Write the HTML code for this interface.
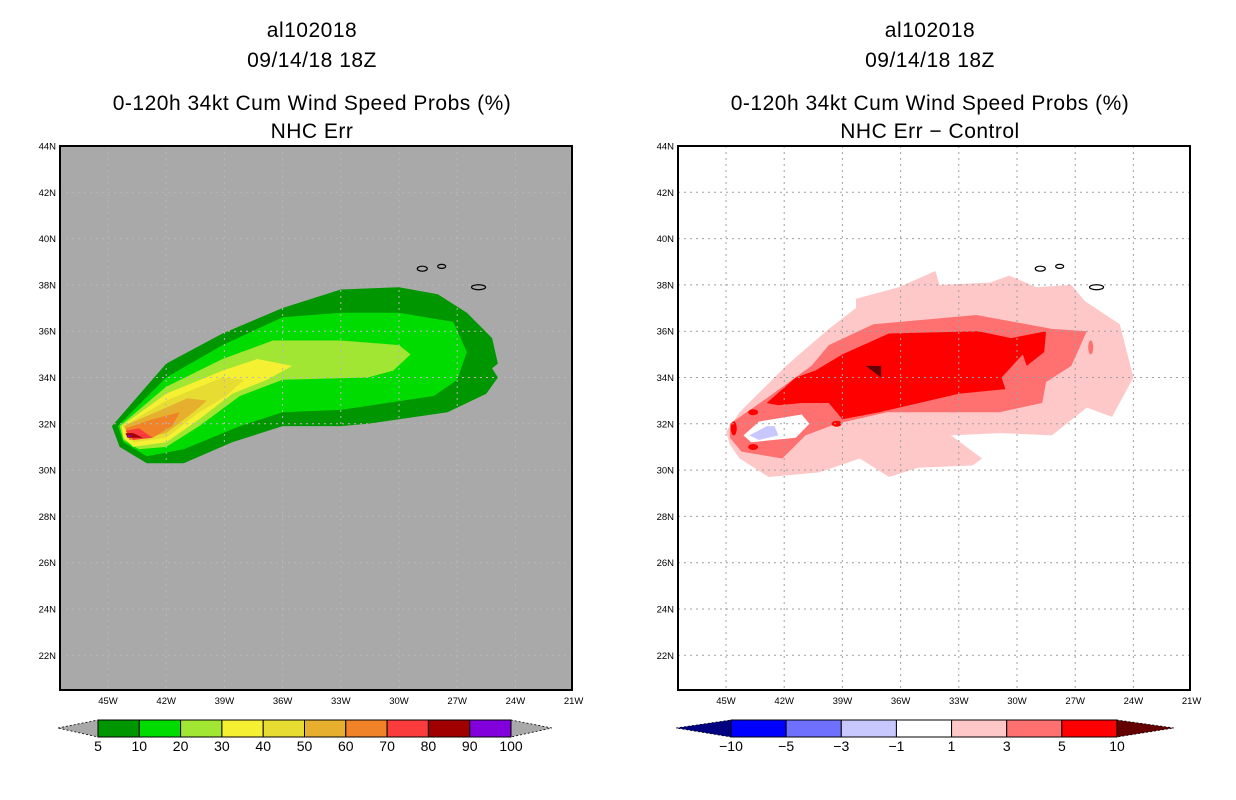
<!DOCTYPE html>
<html><head><meta charset="utf-8"><style>
html,body{margin:0;padding:0;background:#fff;}
svg{display:block;font-family:"Liberation Sans",sans-serif;}
</style></head><body>
<svg id="chart" width="1236" height="800" viewBox="0 0 1236 800"></svg>
<script>
// ---- data (lon in degrees West, lat in degrees North) ----
const lonTicks = [45,42,39,36,33,30,27,24,21];
const latTicks = [44,42,40,38,36,34,32,30,28,26,24,22];
const leftLevels = ["5","10","20","30","40","50","60","70","80","90","100"];
const leftColors = ["#009600","#00dc00","#a0e632","#f5f032","#e6dc32","#e6af2d","#f08228","#fa3c3c","#a00000","#8200dc"];
const rightLevels = ["−10","−5","−3","−1","1","3","5","10"];
const rightColors = ["#0000ff","#7070ff","#c8c8ff","#ffffff","#ffc8c8","#ff7070","#ff0000"];

const p5lon = [44.8,42.0,39.1,36.0,33.0,30.0,28.0,26.5,25.2,24.9,25.2,24.9,25.5,27.5,31.6,33.0,36.0,38.6,41.1,43.0,44.4];
const p5lat = [31.9,34.6,35.9,37.0,37.8,37.9,37.6,36.8,35.7,34.6,34.4,34.0,33.3,32.5,32.0,31.9,31.9,31.2,30.3,30.3,31.0];
const p10lon = [44.5,42.0,39.1,36.0,33.0,30.0,27.2,26.5,27.0,28.2,33.0,36.0,38.2,41.1,43.0,44.2];
const p10lat = [31.9,34.0,35.4,36.6,36.8,36.8,36.4,35.1,33.9,33.2,32.6,32.5,31.9,30.9,30.6,31.2];
const p20lon = [44.4,42.0,39.1,36.5,33.0,30.0,29.4,30.3,31.6,36.0,38.2,40.3,42.0,43.4,44.2];
const p20lat = [31.9,33.6,34.8,35.6,35.6,35.4,35.0,34.3,34.0,33.9,33.2,31.9,31.0,30.9,31.3];
const p30lon = [44.3,42.0,39.1,37.3,35.5,36.8,38.6,40.3,42.0,43.7,44.2];
const p30lat = [31.9,33.3,34.3,34.8,34.5,33.9,33.3,32.2,31.2,31.0,31.4];
const p40lon = [44.2,42.0,39.1,38.0,38.9,40.3,42.0,43.7];
const p40lat = [31.9,33.0,34.0,33.9,33.2,32.5,31.4,31.2];
const p50lon = [44.2,42.0,40.9,39.9,40.6,42.0,43.7];
const p50lat = [31.9,32.7,33.1,33.0,32.5,31.6,31.3];
const p60lon = [44.1,42.7,41.3,41.7,42.7,43.9];
const p60lat = [31.8,32.2,32.5,31.9,31.4,31.3];
const p70lon = [44.1,43.4,42.7,43.7];
const p70lat = [31.7,31.8,31.4,31.3];
const p80lon = [44.1,43.7,43.2,44.0];
const p80lat = [31.6,31.6,31.4,31.4];
const p90lon = [44.0,43.7,44.0];
const p90lat = [31.5,31.5,31.4];

const d1lon = [45.0,44.3,41.9,39.7,38.3,38.3,36.1,34.2,34.0,31.4,30.4,29.0,27.2,26.5,24.7,24.0,25.1,26.4,28.2,30.8,33.4,31.8,32.3,35.1,36.6,38.1,40.2,42.8,44.3,44.8];
const d1lat = [31.65,32.5,34.5,36.1,37.0,37.4,37.9,38.6,38.0,38.1,38.4,37.9,38.0,37.3,36.3,34.0,32.3,32.7,31.5,31.6,31.5,30.5,30.2,30.1,29.7,30.5,29.9,29.7,30.5,31.1];
const d3lon = [44.8,42.9,40.6,39.7,37.4,32.1,28.2,26.4,27.2,28.5,28.7,30.9,36.7,39.3,40.9,42.1,44.2,44.8];
const d3lat = [32.0,33.1,34.5,35.4,36.3,36.7,36.1,36.0,34.5,33.8,32.9,32.5,32.5,32.0,31.5,30.5,30.8,31.4];
const d5lon = [42.9,41.4,40.4,39.0,36.6,32.0,30.3,28.5,28.6,29.5,29.7,30.8,30.6,33.0,37.1,39.0,39.7,41.1,42.3];
const d5lat = [32.9,34.0,34.3,35.0,35.9,36.0,35.7,36.0,35.1,34.5,35.0,34.0,33.5,33.3,32.5,32.2,32.9,32.9,32.8];
const d10lon = [37.8,37.0,37.0];
const d10lat = [34.5,34.5,34.0];
const dm1lon = [44.1,43.3,41.1,40.7,41.4,43.7];
const dm1lat = [31.5,32.1,32.4,32.0,31.4,31.2];
const dm3lon = [43.8,42.9,42.5,42.3,43.3];
const dm3lat = [31.5,31.9,31.9,31.5,31.3];
const spotLon = [44.6,43.6,43.6,39.3];
const spotLat = [31.8,32.5,31.0,32.0];

const NS="http://www.w3.org/2000/svg";
const svg=document.getElementById('chart');
function el(t,a,parent){const e=document.createElementNS(NS,t);for(const k in a)e.setAttribute(k,a[k]);(parent||svg).appendChild(e);return e;}

function makePanel(x0, cfg){
  const g=el('g',{});
  
  
  const X=w=>x0+48+(45-w)*19.4;
  const Y=l=>146+(44-l)*23.15;
  const pw=512, ph=544;
  el('rect',{x:x0,y:146,width:pw,height:ph,fill:cfg.bg},g);
  const poly=(lon,lat,fill,name)=>{
    const p=el('polygon',{points:lon.map((v,i)=>X(v).toFixed(1)+','+Y(lat[i]).toFixed(1)).join(' '),fill:fill},g);
    
    
  };
  cfg.draw(poly,X,Y,g);
  // gridlines
  lonTicks.forEach(w=>{const x=X(w);if(x>x0&&x<x0+pw){const l=el('line',{x1:x,y1:146,x2:x,y2:690,stroke:cfg.grid,'stroke-dasharray':'2,4','stroke-width':1},g);}});
  latTicks.forEach(t=>{const y=Y(t);if(y>146&&y<690){const l=el('line',{x1:x0,y1:y,x2:x0+pw,y2:y,stroke:cfg.grid,'stroke-dasharray':'2,4','stroke-width':1},g);}});
  // islands
  [[28.8,38.7,5,2.5],[27.8,38.8,4,2],[25.9,37.9,7,2.5]].forEach(d=>{const e=el('ellipse',{cx:X(d[0]),cy:Y(d[1]),rx:d[2],ry:d[3],fill:'none',stroke:'#000','stroke-width':1.2},g);});
  el('rect',{x:x0,y:146,width:pw,height:ph,fill:'none',stroke:'#000','stroke-width':2},g);
  latTicks.forEach(t=>{const tx=el('text',{x:x0-4,y:Y(t)+3.5,'font-size':9.5,'text-anchor':'end'},g);tx.textContent=t+'N';});
  lonTicks.forEach(w=>{const tx=el('text',{x:X(w),y:704,'font-size':9.5,'text-anchor':'middle'},g);tx.textContent=w+'W';});
  const cx=x0+pw/2-4;
  [['al102018',37,21],['09/14/18 18Z',67,21],['0-120h 34kt Cum Wind Speed Probs (%)',110,21],[cfg.sub,138,21]].forEach((t,i)=>{
    const tx=el('text',{x:cx,y:t[1],'font-size':t[2],'text-anchor':'middle','letter-spacing':'0.5'},g);tx.textContent=t[0];
    
  });
  // colorbar
  const cb=cfg.cb, n=cb.colors.length, bw=(cb.x1-cb.x0)/n;
  el('polygon',{points:`${cb.tl},728 ${cb.x0},720 ${cb.x0},737`,fill:cb.lt,stroke:'#000','stroke-width':0.8,'stroke-dasharray':'2,2'},g);
  el('polygon',{points:`${cb.tr},728 ${cb.x1},720 ${cb.x1},737`,fill:cb.rt,stroke:'#000','stroke-width':0.8,'stroke-dasharray':'2,2'},g);
  cb.colors.forEach((c,i)=>{const r=el('rect',{x:cb.x0+i*bw,y:720,width:bw,height:17,fill:c,stroke:'#000','stroke-width':1},g);});
  cb.labels.forEach((s,i)=>{const tx=el('text',{x:cb.x0+i*bw,y:751,'font-size':14,'text-anchor':'middle'},g);tx.textContent=s;});
}

makePanel(60,{name:'nhc-err-panel',bg:'#a9a9a9',grid:'#b8b8b8',sub:'NHC Err',
  draw:(poly)=>{
    const L=[[p5lon,p5lat],[p10lon,p10lat],[p20lon,p20lat],[p30lon,p30lat],[p40lon,p40lat],[p50lon,p50lat],[p60lon,p60lat],[p70lon,p70lat],[p80lon,p80lat],[p90lon,p90lat]];
    L.forEach((d,i)=>poly(d[0],d[1],leftColors[i],'prob-contour-'+leftLevels[i]));
  },
  cb:{x0:98,x1:511,tl:58,tr:552,lt:'#a9a9a9',rt:'#a9a9a9',colors:leftColors,labels:leftLevels}});

makePanel(678,{name:'nhc-err-minus-control-panel',bg:'#ffffff',grid:'#a0a0a0',sub:'NHC Err − Control',
  draw:(poly,X,Y,g)=>{
    poly(d1lon,d1lat,rightColors[4],'diff-contour-1');
    poly(d3lon,d3lat,rightColors[5],'diff-contour-3');
    poly(d5lon,d5lat,rightColors[6],'diff-contour-5');
    poly(d10lon,d10lat,'#640000','diff-contour-10');
    poly(dm1lon,dm1lat,'#ffffff','diff-contour-neg1');
    poly(dm3lon,dm3lat,rightColors[2],'diff-contour-neg3');
    spotLon.forEach((w,i)=>{const e=el('ellipse',{cx:X(w),cy:Y(spotLat[i]),rx:i==0?3:5,ry:i==0?7:3,fill:'#ff0000'},g);});
    const s=el('ellipse',{cx:X(26.2),cy:Y(35.3),rx:2.5,ry:7,fill:rightColors[5]},g);
  },
  cb:{x0:731,x1:1117,tl:676,tr:1174,lt:'#000080',rt:'#640000',colors:rightColors,labels:rightLevels}});
</script>
</body></html>
